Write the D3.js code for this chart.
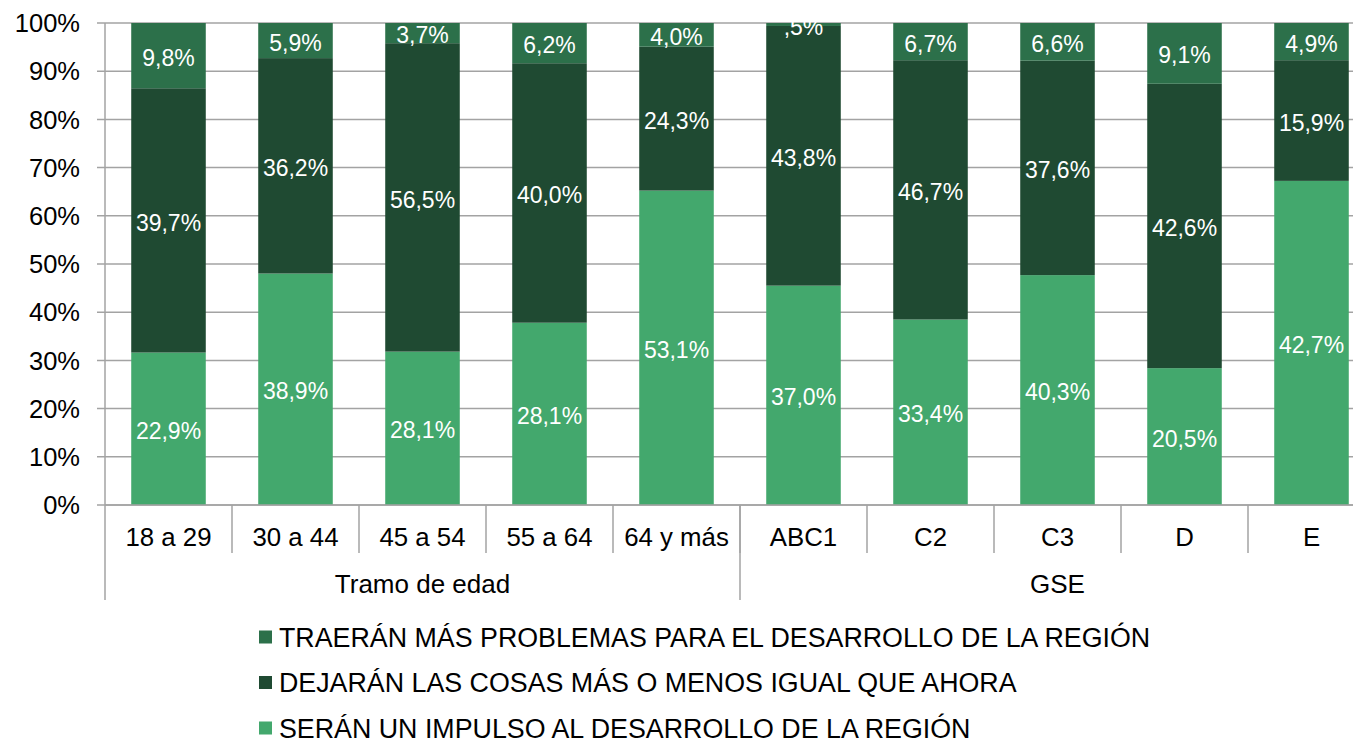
<!DOCTYPE html>
<html>
<head>
<meta charset="utf-8">
<script src="https://cdn.jsdelivr.net/npm/d3@7"></script>
<style>
  html, body { margin: 0; padding: 0; background: #fff; overflow: hidden; }
  svg { display: block; font-family: "Liberation Sans", Arial, sans-serif; }
</style>
</head>
<body>
<svg id="chart" width="1353" height="738"></svg>
<script>
// Categories and their grouping
const categories = ["18 a 29", "30 a 44", "45 a 54", "55 a 64", "64 y más", "ABC1", "C2", "C3", "D", "E"];
const groups = [
  { name: "Tramo de edad", members: ["18 a 29", "30 a 44", "45 a 54", "55 a 64", "64 y más"] },
  { name: "GSE", members: ["ABC1", "C2", "C3", "D", "E"] }
];

// Series values (percent of respondents)
const impulso   = [22.9, 38.9, 28.1, 28.1, 53.1, 37.0, 33.4, 40.3, 20.5, 42.7];
const igual     = [39.7, 36.2, 56.5, 40.0, 24.3, 43.8, 46.7, 37.6, 42.6, 15.9];
const problemas = [9.8, 5.9, 3.7, 6.2, 4.0, 0.5, 6.7, 6.6, 9.1, 4.9];

const seriesNames = {
  impulso: "SERÁN UN IMPULSO AL DESARROLLO DE LA REGIÓN",
  igual: "DEJARÁN LAS COSAS MÁS O MENOS IGUAL QUE AHORA",
  problemas: "TRAERÁN MÁS PROBLEMAS PARA EL DESARROLLO DE LA REGIÓN"
};
const yTicks = [0, 0.1, 0.2, 0.3, 0.4, 0.5, 0.6, 0.7, 0.8, 0.9, 1.0];

const colors = { impulso: "#43a86d", igual: "#1f4a32", problemas: "#2c704a" };
const keys = ["impulso", "igual", "problemas"];

(function draw() {
  const rows = categories.map((c, i) => ({
    cat: c, impulso: impulso[i], igual: igual[i], problemas: problemas[i]
  }));

  const svg = d3.select("#chart");
  const plotLeft = 105, plotTop = 23, plotBottom = 505, plotRightEnd = 1375;
  const gridColor = "#a3a3a3";

  const x = d3.scaleBand().domain(categories).range([plotLeft, plotRightEnd])
    .paddingInner(0.413).paddingOuter(0.2065);
  const y = d3.scaleLinear().domain([0, 1]).range([plotBottom, plotTop]);

  // Horizontal gridlines and y ticks
  svg.append("g").selectAll("line").data(yTicks).join("line")
    .attr("x1", plotLeft - 8).attr("x2", 1353)
    .attr("y1", d => y(d)).attr("y2", d => y(d))
    .attr("stroke", gridColor).attr("stroke-width", 1.5);

  svg.append("g").selectAll("text").data(yTicks).join("text")
    .attr("x", 80).attr("y", d => y(d)).attr("dy", "0.36em")
    .attr("text-anchor", "end").attr("font-size", 25.5).attr("fill", "#000")
    .text(d => d3.format(".0%")(d));

  // Stacked bars normalised to 100%
  const stacked = d3.stack().keys(keys).offset(d3.stackOffsetExpand)(rows);

  const fmt = v => {
    let s = d3.format(".1f")(v).replace(".", ",");
    if (v < 1) s = s.replace(/^0/, "");
    return s + "%";
  };

  const layers = svg.append("g").selectAll("g").data(stacked).join("g")
    .attr("fill", d => colors[d.key]);

  layers.selectAll("rect").data(d => d).join("rect")
    .attr("x", d => x(d.data.cat))
    .attr("width", x.bandwidth())
    .attr("y", d => y(d[1]))
    .attr("height", d => y(d[0]) - y(d[1]));

  const labels = svg.append("g");
  stacked.forEach(layer => {
    layer.forEach(d => {
      labels.append("text")
        .attr("x", x(d.data.cat) + x.bandwidth() / 2)
        .attr("y", (y(d[0]) + y(d[1])) / 2)
        .attr("dy", "0.44em")
        .attr("text-anchor", "middle")
        .attr("font-size", 23)
        .attr("fill", "#fff")
        .text(fmt(d.data[layer.key]));
    });
  });

  // Axis lines
  svg.append("line").attr("x1", plotLeft).attr("x2", plotLeft).attr("y1", plotTop).attr("y2", 600)
    .attr("stroke", gridColor).attr("stroke-width", 1.5);
  svg.append("line").attr("x1", plotLeft).attr("x2", 1353).attr("y1", plotBottom).attr("y2", plotBottom)
    .attr("stroke", gridColor).attr("stroke-width", 1.5);

  // Category separators and labels
  const gap = (x.step() - x.bandwidth()) / 2;
  svg.append("g").selectAll("line").data(categories.slice(1)).join("line")
    .attr("x1", d => x(d) - gap).attr("x2", d => x(d) - gap)
    .attr("y1", plotBottom).attr("y2", 553)
    .attr("stroke", gridColor).attr("stroke-width", 1.5);

  svg.append("g").selectAll("text").data(categories).join("text")
    .attr("x", d => x(d) + x.bandwidth() / 2).attr("y", 546)
    .attr("text-anchor", "middle").attr("font-size", 25.8).attr("fill", "#000")
    .text(d => d);

  // Group separators and labels
  groups.forEach(g => {
    const first = g.members[0], last = g.members[g.members.length - 1];
    const gx0 = x(first) - gap;
    const gx1 = x(last) + x.bandwidth() + gap;
    svg.append("line").attr("x1", gx1).attr("x2", gx1).attr("y1", plotBottom).attr("y2", 600)
      .attr("stroke", gridColor).attr("stroke-width", 1.5);
    svg.append("text").attr("x", (gx0 + gx1) / 2).attr("y", 593)
      .attr("text-anchor", "middle").attr("font-size", 26).attr("fill", "#000")
      .text(g.name);
  });

  // Legend (top series first)
  const legendKeys = ["problemas", "igual", "impulso"];
  const legend = svg.append("g").selectAll("g").data(legendKeys).join("g")
    .attr("transform", (d, i) => `translate(259, ${637 + i * 45.5})`);
  legend.append("rect").attr("x", 0).attr("y", -6.5).attr("width", 13).attr("height", 13)
    .attr("fill", d => colors[d]);
  legend.append("text").attr("x", 20).attr("y", 0).attr("dy", "0.36em")
    .attr("font-size", 26.8).attr("fill", "#000")
    .text(d => seriesNames[d]);
})();
</script>
</body>
</html>
